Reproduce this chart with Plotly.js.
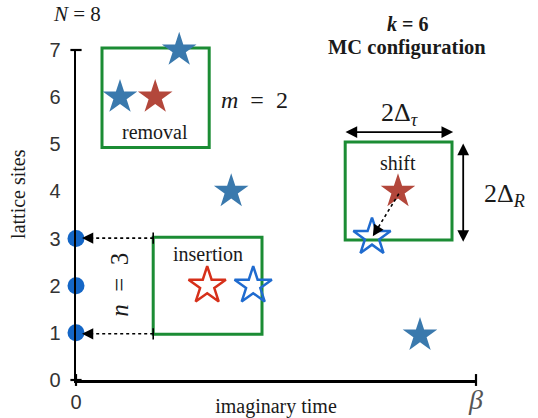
<!DOCTYPE html>
<html>
<head>
<meta charset="utf-8">
<script src="https://cdn.plot.ly/plotly-3.0.1.min.js"></script>
<style>html,body{margin:0;padding:0;background:#fff;}</style>
</head>
<body>
<div id="chart" style="width:538px;height:418px;"></div>
<script>
// ---- data ----
const BETA = 10;
const Y_MAX = 7;
const yTickVals = [0, 1, 2, 3, 4, 5, 6, 7];
const yTickText = ['0', '1', '2', '3', '4', '5', '6', '7'];
const xTickVals = [0, BETA];
const xTickText = ['0', '<span style="font-size:28px;font-family:\'Liberation Serif\';color:#555"><i>β</i></span>'];

const blueStarX = [2.58, 1.1, 3.88, 8.6];
const blueStarY = [7, 6, 4, 0.95];
const redStarX = [1.98, 8.05];
const redStarY = [6, 4];
const openRedX = [3.28];
const openRedY = [2];
const openBlueX = [4.43, 7.4];
const openBlueY = [2, 3.03];
const siteX = [0, 0, 0];
const siteY = [1, 2, 3];

// boxes: [x0, x1, y0, y1]
const removalBox = [0.65, 3.33, 4.93, 7.04];
const insertionBox = [1.93, 4.65, 0.97, 3.03];
const shiftBox = [6.73, 9.4, 2.97, 5.05];

const serif = 'Liberation Serif';
const green = '#1b8c34';

const traces = [
  {x: siteX, y: siteY, mode: 'markers', cliponaxis: false, hoverinfo: 'none',
   marker: {symbol: 'circle', size: 17, color: '#1466c6'}},
  {x: blueStarX, y: blueStarY, mode: 'markers', cliponaxis: false, hoverinfo: 'none',
   marker: {symbol: 'star', size: 26, color: '#3a79ad', line: {width: 0}}},
  {x: redStarX, y: redStarY, mode: 'markers', cliponaxis: false, hoverinfo: 'none',
   marker: {symbol: 'star', size: 26, color: '#b3473b', line: {width: 0}}},
  {x: openRedX, y: openRedY, mode: 'markers', cliponaxis: false, hoverinfo: 'none',
   marker: {symbol: 'star-open', size: 28, color: '#d6301a', line: {width: 2.5, color: '#d6301a'}}},
  {x: openBlueX, y: openBlueY, mode: 'markers', cliponaxis: false, hoverinfo: 'none',
   marker: {symbol: 'star-open', size: 28, color: '#1f6bcf', line: {width: 2.5, color: '#1f6bcf'}}}
];

// boxes use axis-domain references (fractions of the axis range) so the
// green outline is not clipped at the plot edge
function box(b) {
  return {type: 'rect', xref: 'x domain', yref: 'y domain',
          x0: b[0] / BETA, x1: b[1] / BETA, y0: b[2] / Y_MAX, y1: b[3] / Y_MAX,
          line: {color: green, width: 3}, layer: 'below'};
}
function seg(x0, y0, x1, y1, dash, w) {
  return {type: 'line', xref: 'x', yref: 'y', x0: x0, y0: y0, x1: x1, y1: y1,
          line: {color: '#000', width: w || 1.6, dash: dash || 'solid'}};
}
function pseg(x0, y0, x1, y1) {
  return {type: 'line', xref: 'paper', yref: 'paper', x0: x0, y0: y0, x1: x1, y1: y1,
          line: {color: '#000', width: 2.2}};
}

const shapes = [
  box(removalBox), box(insertionBox), box(shiftBox),
  seg(insertionBox[0], 3.01, 0.3, 3.01, 'dot'),
  seg(insertionBox[0], 0.98, 0.3, 0.98, 'dot'),
  seg(insertionBox[0], 2.89, insertionBox[0], 3.13),
  seg(insertionBox[0], 0.86, insertionBox[0], 1.10),
  seg(8.07, 3.95, 7.5, 3.16, 'dot'),
  // axis end caps
  pseg(-0.014, 1, 0.014, 1),
  pseg(-0.014, 0, 0.014, 0),
  pseg(0, -0.018, 0, 0.018),
  pseg(1, -0.018, 1, 0.018)
];

function label(x, y, text, size, extra) {
  return Object.assign({x: x, y: y, xref: 'x', yref: 'y', text: text, showarrow: false,
    xanchor: 'center', yanchor: 'middle',
    font: {family: serif, size: size, color: '#1a1a1a'}}, extra || {});
}
function plabel(x, y, text, size, extra) {
  return Object.assign({x: x, y: y, xref: 'paper', yref: 'paper', text: text, showarrow: false,
    xanchor: 'center', yanchor: 'middle',
    font: {family: serif, size: size, color: '#1a1a1a'}}, extra || {});
}
function arrow(x, y, ax, ay, opts) {
  return Object.assign({x: x, y: y, ax: ax, ay: ay, xref: 'x', yref: 'y', text: '',
    showarrow: true, arrowhead: 2, arrowsize: 1.3, arrowwidth: 1.8, arrowcolor: '#000'}, opts || {});
}

const annotations = [
  plabel(0.003, 1.109, '<i>N</i> = 8', 21),
  plabel(0.8275, 1.08, '<b><i>k</i> = 6</b>', 20),
  plabel(0.8275, 1.008, '<b>MC configuration</b>', 20.5),
  plabel(1.07, 0.56, '2Δ<sub><i>R</i></sub>', 26),
  plabel(-0.145, 0.564, 'lattice sites', 20, {textangle: -90}),
  label(4.45, 5.94, '<i>m</i>  =  2', 24),
  label(1.98, 5.26, 'removal', 20),
  label(3.3, 2.67, 'insertion', 20),
  label(8.05, 4.6, 'shift', 20),
  label(1.1, 2.02, '<i>n</i>  =  3', 25, {textangle: -90}),
  label(8.1, 5.64, '2Δ<sub><i>τ</i></sub>', 26),
  // arrows
  arrow(0.15, 3.01, 9, 0, {arrowsize: 1.5, arrowwidth: 1.5}),
  arrow(0.15, 0.98, 9, 0, {arrowsize: 1.5, arrowwidth: 1.5}),
  arrow(7.42, 3.05, 5, -8, {arrowsize: 1.5, arrowwidth: 1.5}),
  arrow(9.43, 5.26, 6.7, 5.26, {axref: 'x', ayref: 'y', arrowside: 'end+start'}),
  arrow(9.68, 2.93, 9.68, 5.05, {axref: 'x', ayref: 'y', arrowside: 'end+start'})
];

const layout = {
  width: 538, height: 418,
  margin: {l: 76, r: 62, t: 50, b: 38},
  paper_bgcolor: '#fff', plot_bgcolor: '#fff',
  showlegend: false,
  xaxis: {range: [0, BETA], showgrid: false, zeroline: false, showline: true, linecolor: '#000', linewidth: 2.5,
          tickvals: xTickVals, ticktext: xTickText, ticks: '', ticklabelstandoff: 2,
          tickfont: {family: 'Liberation Sans', size: 20, color: '#333'},
          title: {text: 'imaginary time', standoff: 0, font: {family: serif, size: 20, color: '#1a1a1a'}},
          fixedrange: true},
  yaxis: {range: [0, Y_MAX], showgrid: false, zeroline: false, showline: true, linecolor: '#000', linewidth: 2.5,
          tickvals: yTickVals, ticktext: yTickText, ticks: '', ticklabelstandoff: 9,
          tickfont: {family: 'Liberation Sans', size: 20, color: '#333'},
          fixedrange: true},
  shapes: shapes,
  annotations: annotations
};

Plotly.newPlot('chart', traces, layout, {staticPlot: true, displayModeBar: false});
</script>
</body>
</html>
